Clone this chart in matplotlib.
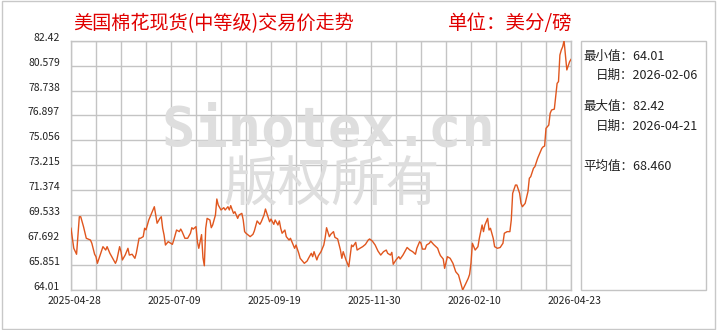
import numpy as np
import pandas as pd
import matplotlib
matplotlib.use('Agg')
import matplotlib.pyplot as plt
from matplotlib.patches import Rectangle
from matplotlib.transforms import ScaledTranslation

plt.rcParams['font.family'] = ['Noto Sans CJK SC', 'DejaVu Sans']

# ---------------- data ----------------
start_date = '2025-04-28'
day_offsets = [0, 1, 2, 4, 5, 6, 7, 9, 11, 14, 15, 17, 18, 19, 21, 23, 25, 26, 28, 30,
               32, 33, 35, 36, 37, 39, 41, 42, 44, 46, 47, 49, 50, 52, 53, 54, 56, 58, 60, 61,
               62, 64, 65, 66, 67, 68, 70, 73, 74, 76, 78, 79, 80, 82, 84, 86, 87, 88, 90, 91,
               92, 94, 95, 96, 97, 98, 100, 101, 102, 104, 105, 106, 108, 110, 111, 113, 114, 115, 117, 118,
               120, 121, 123, 124, 125, 126, 129, 131, 132, 134, 136, 137, 139, 140, 141, 143, 144, 146, 147, 149,
               150, 151, 152, 154, 155, 157, 158, 160, 161, 162, 164, 165, 167, 168, 170, 171, 173, 174, 175, 177,
               178, 180, 182, 183, 184, 186, 187, 189, 190, 192, 194, 195, 196, 198, 200, 202, 203, 205, 206, 208,
               210, 212, 214, 215, 217, 219, 221, 223, 225, 227, 228, 230, 231, 232, 234, 236, 237, 239, 241, 242,
               244, 246, 248, 249, 251, 252, 253, 255, 256, 258, 259, 261, 262, 264, 265, 266, 268, 269, 271, 273,
               275, 277, 279, 280, 281, 282, 284, 286, 287, 288, 289, 291, 293, 294, 296, 297, 298, 300, 301, 302,
               304, 305, 307, 309, 311, 312, 314, 316, 317, 318, 320, 321, 323, 324, 325, 327, 329, 330, 331, 333,
               334, 336, 337, 339, 340, 341, 342, 344, 345, 346, 348, 349, 350, 351, 352, 353, 354, 355, 356, 357,
               358, 359, 360]
prices = [68.57, 67.83, 67.09, 66.65, 68.07, 69.42, 69.42, 68.69, 67.83, 67.70, 67.46, 66.65, 66.47, 65.98, 66.59, 67.21, 66.96, 67.21, 66.72, 66.35,
          65.98, 66.23, 67.21, 66.84, 66.23, 66.59, 67.09, 66.59, 66.65, 66.35, 66.72, 67.83, 67.83, 67.95, 68.57, 68.45, 69.18, 69.67, 70.16, 69.55,
          68.94, 69.30, 69.42, 68.57, 68.07, 67.33, 67.58, 67.38, 67.70, 68.44, 68.32, 68.51, 68.32, 67.83, 67.83, 68.20, 68.61, 68.51, 68.69, 67.58,
          67.09, 68.10, 66.40, 65.80, 68.57, 69.30, 69.18, 68.61, 68.81, 69.55, 70.73, 70.29, 69.92, 70.09, 69.92, 70.16, 69.92, 70.24, 69.67, 69.79,
          69.30, 69.55, 69.67, 69.18, 68.32, 68.20, 67.95, 68.12, 68.37, 69.11, 68.86, 69.05, 69.55, 69.99, 69.67, 69.05, 69.25, 68.86, 69.18, 68.81,
          69.11, 68.57, 68.20, 68.44, 67.95, 67.70, 67.83, 67.33, 67.09, 67.33, 66.72, 66.35, 66.10, 65.98, 66.15, 66.35, 66.72, 66.47, 66.84, 66.23,
          66.52, 66.84, 67.33, 67.87, 68.61, 67.95, 68.12, 68.32, 67.90, 67.78, 66.96, 66.35, 66.84, 66.23, 65.73, 67.33, 67.21, 67.53, 66.96, 67.09,
          67.21, 67.38, 67.70, 67.78, 67.62, 67.33, 66.89, 66.59, 66.84, 66.96, 66.72, 66.59, 66.79, 65.91, 66.23, 66.47, 66.30, 66.59, 66.96, 67.15,
          66.96, 66.84, 66.65, 67.09, 67.58, 67.46, 67.03, 67.03, 67.33, 67.46, 67.62, 67.38, 67.28, 67.09, 66.79, 66.55, 66.30, 65.61, 66.47, 66.35,
          65.98, 65.36, 65.12, 64.75, 64.38, 64.01, 64.43, 64.87, 65.17, 66.00, 67.46, 66.96, 67.21, 67.83, 68.81, 68.32, 68.81, 69.30, 68.44, 68.57,
          67.83, 67.21, 67.09, 67.15, 67.46, 68.20, 68.32, 68.32, 69.18, 71.15, 71.76, 71.76, 71.15, 70.41, 70.16, 70.41, 71.27, 72.26, 72.38, 73.00,
          73.12, 73.74, 73.98, 74.47, 74.59, 74.64, 75.95, 76.19, 77.06, 77.30, 77.37, 78.29, 79.27, 79.40, 81.36, 81.73, 81.97, 82.42, 81.36, 80.26,
          80.56, 80.87, 81.04]

y_ticks = [64.01, 65.851, 67.692, 69.533, 71.374, 73.215, 75.056, 76.897, 78.738, 80.579, 82.42]
y_tick_labels = ['64.01', '65.851', '67.692', '69.533', '71.374', '73.215',
                 '75.056', '76.897', '78.738', '80.579', '82.42']
x_tick_labels = ['2025-04-28', '2025-07-09', '2025-09-19', '2025-11-30', '2026-02-10', '2026-04-23']
end_date = '2026-04-23'

title_text = '美国棉花现货(中等级)交易价走势'
unit_text = '单位：美分/磅'
stat_lines = [('最小值：64.01', 0), ('日期：2026-02-06', 1),
              ('最大值：82.42', 0), ('日期：2026-04-21', 1),
              ('平均值：68.460', 0)]

# ---------------- figure ----------------
W, H = 720, 330
fig = plt.figure(figsize=(W / 100, H / 100), dpi=100)
fig.patch.set_facecolor('white')

def fx(px):
    return px / W

def fy(py):
    return 1 - py / H

ax_left, ax_right, ax_top, ax_bottom = 71, 571, 40.7, 290
ax = fig.add_axes([fx(ax_left), fy(ax_bottom), (ax_right - ax_left) / W, (ax_bottom - ax_top) / H])

dates = pd.Timestamp(start_date) + pd.to_timedelta(day_offsets, unit='D')
ax.plot(dates, prices, color='#e0561e', lw=1.0, zorder=3, solid_joinstyle='round')

t0 = pd.Timestamp(start_date)
t1 = pd.Timestamp(end_date)
ax.set_xlim(t0, t1)
ax.set_ylim(y_ticks[0], y_ticks[-1])

major_x = pd.to_datetime(x_tick_labels)
ax.set_xticks(major_x)
ax.set_xticklabels(x_tick_labels)
minor_x = t0 + pd.to_timedelta(np.arange(0, 361, 18), unit='D')
ax.set_xticks(minor_x, minor=True)
ax.set_yticks(y_ticks)
ax.set_yticklabels(y_tick_labels)

ax.grid(True, which='both', axis='x', color='#c4c4c4', lw=1.0, zorder=0)
ax.grid(True, which='major', axis='y', color='#c4c4c4', lw=1.0, zorder=0)
ax.set_axisbelow(True)
for s in ax.spines.values():
    s.set_color('#c4c4c4')
    s.set_linewidth(1.0)

ax.tick_params(which='both', length=0)
ax.tick_params(axis='y', pad=8, labelsize=7.5, labelcolor='#222222')
ax.tick_params(axis='x', pad=4, labelsize=7.5, labelcolor='#222222')
for lab in ax.get_yticklabels():
    lab.set_transform(lab.get_transform() + ScaledTranslation(0, 4 / 100, fig.dpi_scale_trans))
for lab in ax.get_xticklabels():
    lab.set_transform(lab.get_transform() + ScaledTranslation(3 / 100, 0, fig.dpi_scale_trans))

# watermark
ax.text(fx(328), fy(130), 'Sinotex.cn', transform=fig.transFigure, ha='center', va='center',
        fontsize=40, color='#dedede', family=['DejaVu Sans Mono'], fontweight='bold', zorder=1)
ax.text(fx(332), fy(186), '版权所有', transform=fig.transFigure, ha='center', va='center',
        fontsize=39, color='#dedede', zorder=1)

# titles
fig.text(fx(73), fy(24), title_text, ha='left', va='center', fontsize=13.8, color='#e00000')
fig.text(fx(448), fy(24), unit_text, ha='left', va='center', fontsize=14, color='#e00000')

# stats box
fig.patches.append(Rectangle((fx(580.7), fy(290)), 125 / W, (290 - 40.7) / H,
                             transform=fig.transFigure, fill=False, ec='#c4c4c4', lw=1.0))
stat_y = [56, 75, 106, 126, 166]
for (txt, indent), yy in zip(stat_lines, stat_y):
    fig.text(fx(583 if indent == 0 else 596), fy(yy), txt, ha='left', va='center',
             fontsize=9, color='#222222')

# outer border
fig.patches.append(Rectangle((fx(2), fy(329)), 713 / W, 328 / H, transform=fig.transFigure,
                             fill=False, ec='#c8c8c8', lw=1.0))

fig.savefig('out.png', dpi=100)
